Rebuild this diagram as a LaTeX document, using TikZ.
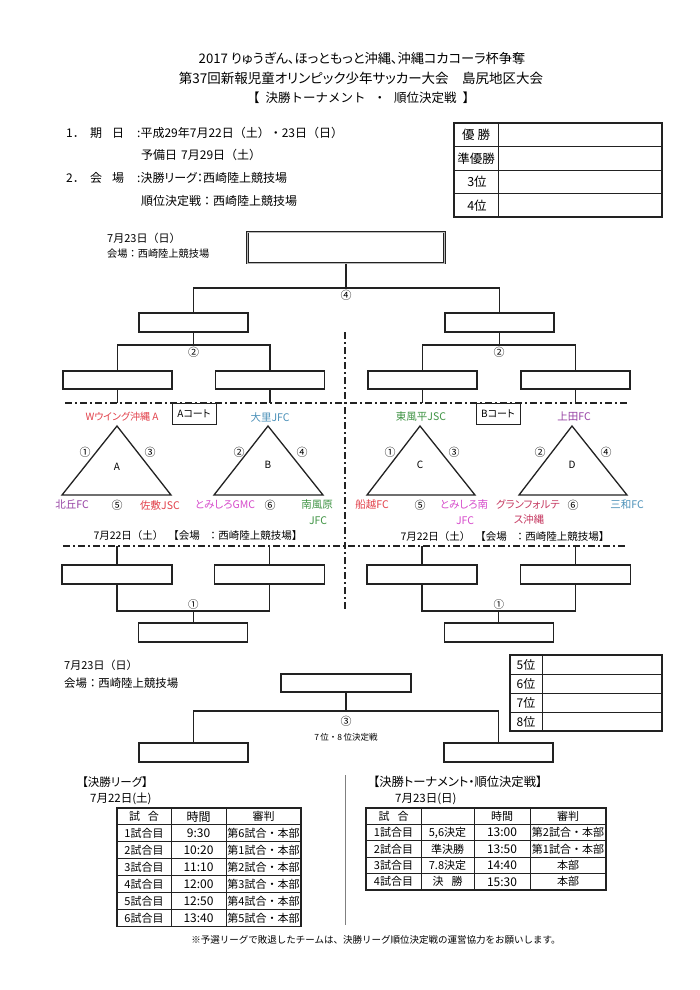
\documentclass[tikz,border=0pt]{standalone}
\usepackage{fontspec}
\setmainfont{Noto Sans CJK JP}[RawFeature=+palt]
\newfontfamily\fw{Noto Sans CJK JP}
\definecolor{ink}{HTML}{222222}
\definecolor{cred}{HTML}{E2404A}
\definecolor{cblue}{HTML}{4A90B8}
\definecolor{cgreen}{HTML}{3F9444}
\definecolor{cpurple}{HTML}{953FA3}
\definecolor{cmag}{HTML}{D64ACB}
\definecolor{ccrim}{HTML}{C63A62}
\newcommand{\fsz}[1]{\fontsize{#1}{#1}\selectfont}
\begin{document}
\begin{tikzpicture}[x=1pt,y=-1pt,
  slot/.style={draw=ink, line width=1.3pt, minimum width=#1, minimum height=19pt, inner sep=0pt},
  slot/.default=109pt,
  link/.style={draw=ink, line width=1.2pt},
  sepline/.style={draw=ink, line width=2pt, dash pattern=on 7pt off 3pt on 2pt off 3pt},
  tri/.style={draw=ink, line width=1.3pt, line join=miter},
  txt/.style={inner sep=0pt, font=\fsz{11}},
  team/.style={inner sep=0pt, font=\fsz{10.5}},
  num/.style={inner sep=0pt, font=\fsz{11}},
  cell/.style={inner sep=0pt, font=\fw\fsz{11}},
  grid/.style={draw=ink, line width=0.9pt},
  court/.style={draw=ink, line width=1pt, minimum width=44pt, minimum height=21pt, inner sep=0pt, font=\fsz{10}}
]
\useasboundingbox[fill=white] (0,0) rectangle (700,990);

% ---------- header ----------
\node[txt, font=\fsz{13.2}] (h1) at (362,58) {2017 りゅうぎん、ほっともっと沖縄、沖縄コカコーラ杯争奪};
\node[txt, font=\fsz{13.5}] (h2) at (361,78) {第37回新報児童オリンピック少年サッカー大会　島尻地区大会};
\node[txt, font=\fw\fsz{12.5}] (h3) at (361,98) {【\hspace{6pt}決勝トーナメント\hspace{8pt}・\hspace{8pt}順位決定戦\hspace{6pt}】};

% ---------- info ----------
\node[txt, font=\fw\fsz{12}, anchor=west] (i1a) at (66,133) {1．};
\node[txt, font=\fw\fsz{12}, anchor=west] (i1b) at (90,133) {期\hspace{10pt}日};
\node[txt, font=\fw\fsz{12}, anchor=west] (i1c) at (137,133) {:平成29年7月22日（土）・23日（日）};
\node[txt, font=\fw\fsz{12}, anchor=west] (i2) at (141,155) {予備日\hspace{4pt}7月29日（土）};
\node[txt, font=\fw\fsz{12}, anchor=west] (i3a) at (66,178) {2．};
\node[txt, font=\fw\fsz{12}, anchor=west] (i3b) at (90,178) {会\hspace{10pt}場};
\node[txt, font=\fsz{12}, anchor=west] (i3c) at (137,178) {:決勝リーグ：西崎陸上競技場};
\node[txt, font=\fw\fsz{12}, anchor=west] (i4) at (141,201) {順位決定戦：西崎陸上競技場};

% ---------- result table (top right) ----------
\draw[grid, line width=1.3pt] (454,123) rectangle (662,217);
\foreach \yy in {146.5,170,193.5} \draw[grid] (454,\yy) -- (662,\yy);
\draw[grid] (498,123) -- (498,217);
\node[cell, font=\fw\fsz{12.5}] (r1l) at (476,134.75) {優\hspace{3pt}勝};
\node[cell, font=\fw\fsz{12.5}] (r2l) at (476,158.25) {準優勝};
\node[cell, font=\fw\fsz{12.5}] (r3l) at (477,181.75) {3位};
\node[cell, font=\fw\fsz{12.5}] (r4l) at (477,205.25) {4位};

% ---------- upper tournament ----------
\node[txt, font=\fw\fsz{11}, anchor=west] (d23a) at (107,238) {7月23日（日）};
\node[txt, font=\fw\fsz{10.2}, anchor=west] (v23a) at (107,254) {会場：西崎陸上競技場};

\node[draw=ink, line width=1pt, double=gray!55, double distance=0.9pt, minimum width=197pt, minimum height=31pt, inner sep=0pt] (fin) at (346,247.5) {};
\node[slot] (sL) at (193.5,322.5) {};
\node[slot] (sR) at (499.5,322.5) {};
\node[slot, minimum height=18pt] (q1) at (117.5,380) {};
\node[slot, minimum height=18pt] (q2) at (270,380) {};
\node[slot, minimum height=18pt] (q3) at (422.5,380) {};
\node[slot, minimum height=18pt] (q4) at (575.5,380) {};

\coordinate (j4) at (346,288);
\coordinate (j2L) at (193.75,345);
\coordinate (j2R) at (499,345);
\coordinate (topsep) at (0,403);
\coordinate (botsep) at (0,546);

\draw[link] (fin.south) -- (j4);
\draw[link] (sL.north) |- (j4) -| (sR.north);
\draw[link] (sL.south) -- (sL.south |- j2L);
\draw[link] (sR.south) -- (sR.south |- j2R);
\draw[link] (q1.north) |- (j2L) -| (q2.north);
\draw[link] (q3.north) |- (j2R) -| (q4.north);
\draw[link] (q1.south) -- (q1.south |- topsep);
\draw[link] (q2.south) -- (q2.south |- topsep);
\draw[link] (q3.south) -- (q3.south |- topsep);
\draw[link] (q4.south) -- (q4.south |- topsep);

\node[num] (n4) at (346,295.5) {④};
\node[num] (n2L) at (193.5,352.5) {②};
\node[num] (n2R) at (499,352.5) {②};

% ---------- separators ----------
\draw[sepline] (65,403) -- (627,403);
\draw[sepline] (63,546) -- (627,546);
\draw[sepline] (345,332) -- (345,611);

% ---------- courts ----------
\node[court] (ca) at (194,413.5) {Aコート};
\node[court] (cb) at (498,413.5) {Bコート};

% ---------- groups ----------
\coordinate (Aa) at (117,426); \coordinate (Ab) at (62,495); \coordinate (Ac) at (171,495);
\coordinate (Ba) at (268,426); \coordinate (Bb) at (214,495); \coordinate (Bc) at (323,495);
\coordinate (Ca) at (420,426); \coordinate (Cb) at (367,495); \coordinate (Cc) at (475,495);
\coordinate (Da) at (572,426); \coordinate (Db) at (519,495); \coordinate (Dc) at (627,495);
\draw[tri] (Aa) -- (Ab) -- (Ac) -- cycle;
\draw[tri] (Ba) -- (Bb) -- (Bc) -- cycle;
\draw[tri] (Ca) -- (Cb) -- (Cc) -- cycle;
\draw[tri] (Da) -- (Db) -- (Dc) -- cycle;

\node[txt, font=\fsz{10}] (gA) at (117,467) {A};
\node[txt, font=\fsz{10}] (gB) at (268,465) {B};
\node[txt, font=\fsz{10}] (gC) at (420,465) {C};
\node[txt, font=\fsz{10}] (gD) at (572,465) {D};

\node[num] (a1) at (85,452) {①};
\node[num] (a3) at (150,452) {③};
\node[num] (b2) at (239,452) {②};
\node[num] (b4) at (302,452) {④};
\node[num] (c1) at (390,452) {①};
\node[num] (c3) at (454,452) {③};
\node[num] (d2) at (540,452) {②};
\node[num] (d4) at (606,452) {④};
\node[num] (a5) at (117,505) {⑤};
\node[num] (b6) at (270,505) {⑥};
\node[num] (c5) at (420,505) {⑤};
\node[num] (d6) at (573,505) {⑥};

\node[team, text=cred, font=\fsz{10}] (tA1) at (122,417) {Wウイング沖縄 A};
\node[team, text=cblue] (tB1) at (270,417) {大里JFC};
\node[team, text=cgreen] (tC1) at (421,417) {東風平JSC};
\node[team, text=cpurple] (tD1) at (574,417) {上田FC};
\node[team, text=cpurple] (tA2) at (72,505) {北丘FC};
\node[team, text=cred] (tA3) at (160,505) {佐敷JSC};
\node[team, text=cmag] (tB2) at (225,505) {とみしろGMC};
\node[team, text=cgreen] (tB3) at (317,505) {南風原};
\node[team, text=cgreen] (tB3b) at (318,521) {JFC};
\node[team, text=cred] (tC2) at (372,505) {船越FC};
\node[team, text=cmag] (tC3) at (464,505) {とみしろ南};
\node[team, text=cmag] (tC3b) at (465,521) {JFC};
\node[team, text=ccrim] (tD2) at (528,504) {グランフォルテ};
\node[team, text=ccrim] (tD2b) at (529,520) {ス沖縄};
\node[team, text=cblue] (tD3) at (627,505) {三和FC};

\node[txt, font=\fw\fsz{10.5}] (v22L) at (198,536) {7月22日（土）\hspace{5pt}【会場\hspace{8pt}：西崎陸上競技場】};
\node[txt, font=\fw\fsz{10.5}] (v22R) at (505,537) {7月22日（土）\hspace{5pt}【会場\hspace{8pt}：西崎陸上競技場】};

% ---------- lower first round ----------
\node[slot=110pt] (m1) at (117,574.5) {};
\node[slot=110pt] (m2) at (269.5,574.5) {};
\node[slot=110pt] (m3) at (422,574.5) {};
\node[slot=110pt] (m4) at (575.5,574.5) {};
\node[slot] (w1) at (193.25,632.5) {};
\node[slot] (w2) at (498.75,632.5) {};
\coordinate (j1L) at (193.25,611);
\coordinate (j1R) at (498.75,611);
\draw[link] (m1.north) -- (m1.north |- botsep);
\draw[link] (m2.north) -- (m2.north |- botsep);
\draw[link] (m3.north) -- (m3.north |- botsep);
\draw[link] (m4.north) -- (m4.north |- botsep);
\draw[link] (m1.south) |- (j1L) -| (m2.south);
\draw[link] (m3.south) |- (j1R) -| (m4.south);
\draw[link] (j1L) -- (w1.north);
\draw[link] (j1R) -- (w2.north);
\node[num, font=\fsz{10.5}] (n1L) at (193.25,605) {①};
\node[num, font=\fsz{10.5}] (n1R) at (498.75,605) {①};

% ---------- 7th/8th place ----------
\node[txt, font=\fw\fsz{11}, anchor=west] (d23b) at (64,665) {7月23日（日）};
\node[txt, font=\fw\fsz{11.4}, anchor=west] (v23b) at (64,683) {会場：西崎陸上競技場};

\draw[grid, line width=1.3pt] (510,655) rectangle (662,731);
\foreach \yy in {674,693,712} \draw[grid] (510,\yy) -- (662,\yy);
\draw[grid] (542,655) -- (542,731);
\node[cell, font=\fw\fsz{12}] (p5) at (526,664.5) {5位};
\node[cell, font=\fw\fsz{12}] (p6) at (526,683.5) {6位};
\node[cell, font=\fw\fsz{12}] (p7) at (526,702.5) {7位};
\node[cell, font=\fw\fsz{12}] (p8) at (526,721.5) {8位};

\node[slot=130pt, minimum height=18pt] (p3) at (346,683) {};
\node[slot] (l1) at (193.5,752.5) {};
\node[slot] (l2) at (498.5,752.5) {};
\coordinate (j3) at (346,711);
\draw[link] (p3.south) -- (j3);
\draw[link] (l1.north) |- (j3) -| (l2.north);
\node[num] (n3) at (346,721) {③};
\node[txt, font=\fw\fsz{8.5}] (n3t) at (346,737) {7\,位・8\,位決定戦};

% ---------- schedule tables ----------
\node[txt, font=\fsz{11.5}, anchor=west] (sl1) at (82,782) {【決勝リーグ】};
\node[txt, font=\fsz{11.5}, anchor=west] (sl2) at (90,799) {7月22日(土)};
\node[txt, font=\fsz{12.3}, anchor=west] (sr1) at (373,782) {【決勝トーナメント・順位決定戦】};
\node[txt, font=\fsz{11.5}, anchor=west] (sr2) at (395,799) {7月23日(日)};

\draw[draw=gray, line width=1pt] (345,775) -- (345,925);

% left table
\draw[grid, line width=1.2pt] (117,808) rectangle (301,926.3);
\foreach \k in {1,...,6} \draw[grid] (117,808+16.9*\k) -- (301,808+16.9*\k);
\draw[grid] (171,808) -- (171,926.3);
\draw[grid] (226,808) -- (226,926.3);
\foreach [count=\i] \a/\b/\c in {試\hspace{8pt}合/時間/審判,1試合目/9:30/第6試合・本部,2試合目/10:20/第1試合・本部,3試合目/11:10/第2試合・本部,4試合目/12:00/第3試合・本部,5試合目/12:50/第4試合・本部,6試合目/13:40/第5試合・本部}{
  \pgfmathsetmacro\yy{808+16.9*(\i-0.5)}
  \node[cell] (la\i) at (144,\yy) {\a};
  \node[cell, font=\fw\fsz{12}] (lb\i) at (198.5,\yy) {\b};
  \node[cell] (lc\i) at (263.5,\yy) {\c};
}

% right table
\draw[grid, line width=1.2pt] (366,808) rectangle (606,890);
\foreach \k in {1,...,4} \draw[grid] (366,808+16.4*\k) -- (606,808+16.4*\k);
\draw[grid] (421,808) -- (421,890);
\draw[grid] (474,808) -- (474,890);
\draw[grid] (530,808) -- (530,890);
\node[cell] (ra1) at (393.5,816.2) {試\hspace{8pt}合};
\node[cell] (rc1) at (502,816.2) {時間};
\node[cell] (rd1) at (568,816.2) {審判};
\node[cell] (ra2) at (393.5,832.6) {1試合目};
\node[cell] (rb2) at (447.5,832.6) {5,6決定};
\node[cell, font=\fw\fsz{12}] (rc2) at (502,832.6) {13:00};
\node[cell] (rd2) at (568,832.6) {第2試合・本部};
\node[cell] (ra3) at (393.5,849.0) {2試合目};
\node[cell] (rb3) at (447.5,849.0) {準決勝};
\node[cell, font=\fw\fsz{12}] (rc3) at (502,849.0) {13:50};
\node[cell] (rd3) at (568,849.0) {第1試合・本部};
\node[cell] (ra4) at (393.5,865.4) {3試合目};
\node[cell] (rb4) at (447.5,865.4) {7.8決定};
\node[cell, font=\fw\fsz{12}] (rc4) at (502,865.4) {14:40};
\node[cell] (rd4) at (568,865.4) {本部};
\node[cell] (ra5) at (393.5,881.8) {4試合目};
\node[cell] (rb5) at (447.5,881.8) {決\hspace{8pt}勝};
\node[cell, font=\fw\fsz{12}] (rc5) at (502,881.8) {15:30};
\node[cell] (rd5) at (568,881.8) {本部};

\node[txt, font=\fw\fsz{9.5}] (foot) at (376,940) {※予選リーグで敗退したチームは、決勝リーグ順位決定戦の運営協力をお願いします。};
\end{tikzpicture}
\end{document}
